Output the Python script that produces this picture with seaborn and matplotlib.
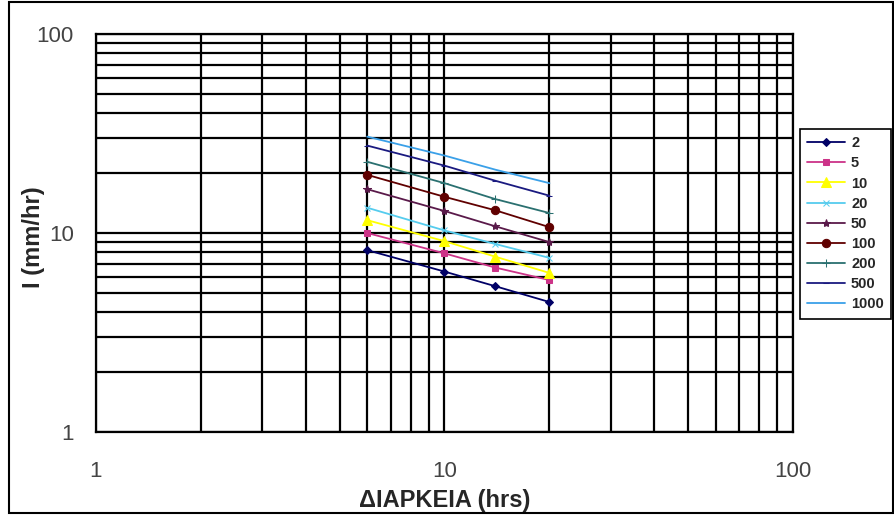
import numpy as np
import pandas as pd
import seaborn as sns
import matplotlib
matplotlib.use("Agg")
import matplotlib.pyplot as plt
from matplotlib.patches import Rectangle
from matplotlib.ticker import FixedLocator, FixedFormatter, NullFormatter

# durations (hrs) and return periods (years)
durations = [6, 10, 14, 20]
periods = ['2', '5', '10', '20', '50', '100', '200', '500', '1000']

# intensities I (mm/hr), one list per return period
i_2 = [8.2, 6.4, 5.4, 4.5]
i_5 = [10.0, 7.9, 6.7, 5.8]
i_10 = [11.6, 9.1, 7.6, 6.3]
i_20 = [13.4, 10.3, 8.8, 7.5]
i_50 = [16.6, 12.9, 10.8, 9.0]
i_100 = [19.6, 15.2, 13.0, 10.7]
i_200 = [22.8, 17.8, 14.8, 12.6]
i_500 = [27.5, 21.8, 18.3, 15.4]
i_1000 = [30.5, 24.5, 20.8, 17.8]
intensities = [i_2, i_5, i_10, i_20, i_50, i_100, i_200, i_500, i_1000]

colors = ['#000066', '#CC3388', '#FFFF00', '#55CCEE', '#5A1A4A',
          '#600000', '#2A7070', '#1A1A80', '#3AA0E8']
markers = ['D', 's', '^', 'x', '*', 'o', '+', '_', '']
msizes = [4, 5, 7, 5, 6, 6, 6, 5, 0]

rows = []
for p, vals in zip(periods, intensities):
    for d, v in zip(durations, vals):
        rows.append({'T': p, 'D': d, 'I': v})
df = pd.DataFrame(rows)

sns.set_style("white")
plt.rcParams['font.family'] = ['Liberation Sans', 'DejaVu Sans']

fig = plt.figure(figsize=(8.95, 5.15), dpi=100)
ax = fig.add_axes([96 / 895, 1 - 432 / 515, 697 / 895, 398 / 515])

for p, c, m, ms in zip(periods, colors, markers, msizes):
    sub = df[df['T'] == p]
    sns.lineplot(data=sub, x='D', y='I', color=c, marker=m if m else None,
                 markersize=ms, markeredgecolor=c, linewidth=1.3,
                 label=p, ax=ax, zorder=3)

ax.set_xscale('log')
ax.set_yscale('log')
ax.set_xlim(1, 100)
ax.set_ylim(1, 100)

ax.xaxis.set_major_locator(FixedLocator([1, 10, 100]))
ax.yaxis.set_major_locator(FixedLocator([1, 10, 100]))
ax.xaxis.set_major_formatter(FixedFormatter(['1', '10', '100']))
ax.yaxis.set_major_formatter(FixedFormatter(['1', '10', '100']))
minor = [k * 10 ** e for e in (0, 1) for k in range(2, 10)]
ax.xaxis.set_minor_locator(FixedLocator(minor))
ax.yaxis.set_minor_locator(FixedLocator(minor))
ax.xaxis.set_minor_formatter(NullFormatter())
ax.yaxis.set_minor_formatter(NullFormatter())

ax.grid(which='both', color='black', linewidth=1.6, zorder=1)
ax.set_axisbelow(True)
for s in ax.spines.values():
    s.set_color('black')
    s.set_linewidth(1.6)

ax.tick_params(which='major', direction='out', length=6, width=1.3,
               color='black', labelsize=16, labelcolor='#444444')
ax.tick_params(axis='y', which='major', pad=10)
ax.tick_params(axis='x', which='major', pad=15)
ax.tick_params(which='minor', length=0)

ax.set_xlabel('ΔIAPKEIA (hrs)', fontsize=17, fontweight='bold')
ax.set_ylabel('I (mm/hr)', fontsize=17, fontweight='bold')
ax.xaxis.set_label_coords(0.5, -(489 - 432) / 398)
ax.yaxis.set_label_coords(-(96 - 45) / 697, 0.49)

leg = ax.legend(loc='upper left', bbox_to_anchor=(800 / 895, 1 - 129 / 515),
                bbox_transform=fig.transFigure, frameon=True, fancybox=False,
                framealpha=1, edgecolor='black', fontsize=10.5,
                handlelength=2.6, labelspacing=0.42, borderpad=0.5,
                handletextpad=0.4, borderaxespad=0)
leg.get_frame().set_linewidth(1.2)
for t in leg.get_texts():
    t.set_fontweight('bold')

fig.patches.append(Rectangle((9 / 895, 2 / 515), 884 / 895, 511 / 515,
                             transform=fig.transFigure, fill=False,
                             edgecolor='black', linewidth=1.5))

fig.savefig('out.png', dpi=100)
